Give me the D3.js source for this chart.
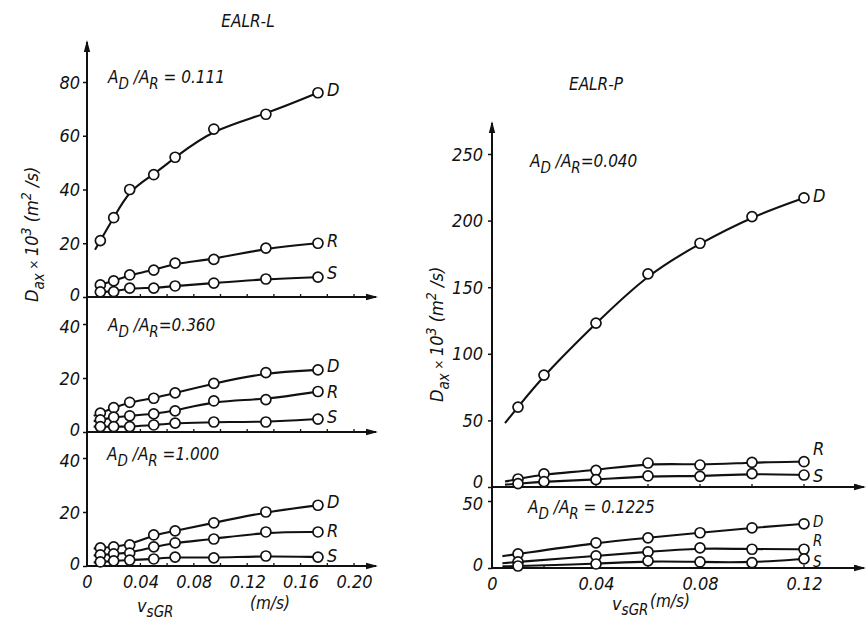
<!DOCTYPE html>
<html><head><meta charset="utf-8">
<script src="https://cdn.jsdelivr.net/npm/d3@7"></script>
<style>
body{margin:0;background:#fff}
svg{display:block}
text{font-family:'DejaVu Sans Condensed','DejaVu Sans',sans-serif;font-style:italic;fill:#111}
</style>
</head><body>
<svg id="c" width="868" height="621"></svg>
<script>
// ---------- data ----------
const xL = [0.01, 0.02, 0.032, 0.05, 0.066, 0.095, 0.134, 0.173];
const L1_D = [21, 29.5, 40, 45.5, 52, 62.5, 68, 76];
const L1_R = [4.5, 6, 8.2, 10, 12.6, 14, 18.2, 20];
const L1_S = [1.9, 2, 3.3, 3.3, 4.1, 5.2, 6.7, 7.4];
const L2_D = [7, 9, 11, 12.5, 14.5, 18, 22, 23];
const L2_R = [4.5, 5.5, 6, 6.7, 7.8, 11.5, 12, 15];
const L2_S = [2, 2, 2, 2.6, 3.3, 3.7, 3.7, 4.8];
const L3_D = [6.7, 7.1, 7.8, 11.5, 13, 16, 20, 22.5];
const L3_R = [4.1, 4.5, 4.8, 7.1, 8.6, 10, 12.6, 12.6];
const L3_S = [1.5, 1.9, 2.2, 2.6, 3.3, 3, 3.7, 3.3];

const xP1 = [0.01, 0.02, 0.04, 0.06, 0.08, 0.10, 0.12];
const P1_D = [60, 84, 123, 160, 183, 203, 217];
const P1_R = [6, 9.8, 12.5, 18, 16.5, 18.5, 19];
const P1_S = [2.5, 4, 5.5, 8.3, 8, 10, 9];
const xP2 = [0.01, 0.04, 0.06, 0.08, 0.10, 0.12];
const P2_D = [10.5, 18.8, 22.5, 26.3, 30, 33];
const P2_R = [4.5, 9, 12, 15, 14, 14];
const P2_S = [1.5, 3, 5.3, 4.5, 4, 6.8];

const seriesNames = ["D", "R", "S"];
const ratioL = ["0.111", "0.360", "1.000"];
const ratioP = ["0.040", "0.1225"];
const yTicksL1 = [0, 20, 40, 60, 80];
const yTicksL23 = [0, 20, 40];
const yTicksP1 = [0, 50, 100, 150, 200, 250];
const yTicksP2 = [0, 50];
const xTickLabelsL = [0, 0.04, 0.08, 0.12, 0.16, 0.20];
const xTickLabelsP = [0, 0.04, 0.08, 0.12];
const xMinorL = d3.range(0.02, 0.2001, 0.02);
const xMinorP = d3.range(0.02, 0.1401, 0.02);

// ---------- scales ----------
const svg = d3.select("#c");
const xSL = d3.scaleLinear().domain([0, 0.2]).range([87, 354]);
const xSP = d3.scaleLinear().domain([0, 0.12]).range([492, 804]);
const yL1 = d3.scaleLinear().domain([0, 80]).range([297, 82]);
const yL2 = d3.scaleLinear().domain([0, 40]).range([432, 324]);
const yL3 = d3.scaleLinear().domain([0, 40]).range([566, 458]);
const yP1 = d3.scaleLinear().domain([0, 250]).range([487, 154]);
const yP2 = d3.scaleLinear().domain([0, 50]).range([568, 501]);

const fmtX = d => d === 0 ? "0" : d3.format(".2f")(d);

function arrowRight(x, y) {
  svg.append("path").attr("d", `M${x},${y} L${x-12},${y-3.2} L${x-12},${y+3.2} Z`).attr("fill", "#111");
}
function arrowUp(x, y) {
  svg.append("path").attr("d", `M${x},${y} L${x-3.2},${y+12} L${x+3.2},${y+12} Z`).attr("fill", "#111");
}

// vertical axis lines
svg.append("line").attr("x1", 87).attr("x2", 87).attr("y1", 42).attr("y2", yL3(0))
  .attr("stroke", "#111").attr("stroke-width", 2);
arrowUp(87, 40);
svg.append("line").attr("x1", xSP(0)).attr("x2", xSP(0)).attr("y1", 123).attr("y2", yP2(0))
  .attr("stroke", "#111").attr("stroke-width", 2);
arrowUp(xSP(0), 121);

function panel(o) {
  const g = svg.append("g");
  // y ticks
  const ya = d3.axisLeft(o.y).tickValues(o.yTicks).tickSize(4).tickPadding(o.pad);
  const yg = g.append("g").attr("transform", `translate(${o.x(0)},0)`).call(ya);
  yg.select(".domain").remove();
  yg.selectAll("line").attr("stroke", "#111").attr("stroke-width", 1.5);
  yg.selectAll("text").attr("font-size", 18).attr("font-family", null).style("fill", "#111")
    .attr("dy", d => (o.yShift && o.yShift[d] !== undefined ? o.yShift[d] : 0) + 6);
  // x axis line
  const y0 = o.y(0);
  g.append("line").attr("x1", o.x(0)).attr("x2", o.xEnd).attr("y1", y0).attr("y2", y0)
    .attr("stroke", "#111").attr("stroke-width", 2);
  arrowRight(o.xEnd + 2, y0);
  // minor x ticks (upward)
  g.selectAll(".mt").data(o.minor).join("line")
    .attr("x1", d => o.x(d)).attr("x2", d => o.x(d))
    .attr("y1", y0).attr("y2", y0 - 3).attr("stroke", "#111").attr("stroke-width", 1.3);
  // series: curve starts a little left of the first point, extended along the first segment
  o.series.forEach((s) => {
    const pts = s.map((v, i) => [o.xs[i], v]);
    const x0 = o.xStart;
    const slope = (pts[1][1] - pts[0][1]) / (pts[1][0] - pts[0][0]);
    const yStart = Math.max(0.3, pts[0][1] + slope * (x0 - pts[0][0]));
    const all = [[x0, yStart]].concat(pts);
    const line = d3.line().x(d => o.x(d[0])).y(d => o.y(d[1])).curve(d3.curveBasis);
    g.append("path").datum(all).attr("d", line).attr("fill", "none")
      .attr("stroke", "#111").attr("stroke-width", 2.1);
  });
  o.series.forEach((s, k) => {
    g.selectAll(null).data(s).join("circle")
      .attr("cx", (d, i) => o.x(o.xs[i])).attr("cy", d => o.y(d)).attr("r", 5)
      .attr("fill", "#fff").attr("stroke", "#111").attr("stroke-width", 1.7);
    const last = s.length - 1;
    const off = (o.labOff && o.labOff[k]) || 4;
    g.append("text").attr("x", o.x(o.xs[last]) + 9).attr("y", o.y(s[last]) + off)
      .attr("font-size", o.labSize || 18).text(seriesNames[k]);
  });
  // ratio annotation
  const t = g.append("text").attr("x", o.ax).attr("y", o.ay).attr("font-size", 17);
  t.append("tspan").text("A");
  t.append("tspan").attr("dy", 6).attr("font-size", 15).text("D");
  t.append("tspan").attr("dy", -6).text(o.sep1);
  t.append("tspan").attr("dy", 6).attr("font-size", 15).text("R");
  t.append("tspan").attr("dy", -6).text(o.sep2 + o.ratio);
}

panel({x: xSL, y: yL1, yTicks: yTicksL1, pad: 3, xEnd: 376, minor: xMinorL, xs: xL, xStart: 0.006,
  series: [L1_D, L1_R, L1_S], ax: 108, ay: 83, sep1: " /A", sep2: " = ", ratio: ratioL[0], labOff: [3, 0, 2],
  yShift: {0: -3}});
panel({x: xSL, y: yL2, yTicks: yTicksL23, pad: 3, xEnd: 376, minor: xMinorL, xs: xL, xStart: 0.005,
  series: [L2_D, L2_R, L2_S], ax: 108, ay: 331, sep1: " /A", sep2: "=", ratio: ratioL[1], labOff: [2, 6, 4],
  yShift: {0: -3, 40: 2}});
panel({x: xSL, y: yL3, yTicks: yTicksL23, pad: 3, xEnd: 376, minor: xMinorL, xs: xL, xStart: 0.005,
  series: [L3_D, L3_R, L3_S], ax: 107, ay: 460, sep1: " /A", sep2: " =", ratio: ratioL[2], labOff: [3, 5, 5],
  yShift: {0: -3, 40: 2}});
panel({x: xSP, y: yP1, yTicks: yTicksP1, pad: 5, xEnd: 864, minor: xMinorP, xs: xP1, xStart: 0.005,
  series: [P1_D, P1_R, P1_S], ax: 530, ay: 167, sep1: " /A", sep2: "=", ratio: ratioP[0], labOff: [4, -7, 7],
  yShift: {0: -6}});
panel({x: xSP, y: yP2, yTicks: yTicksP2, pad: 5, xEnd: 864, minor: xMinorP, xs: xP2, xStart: 0.004,
  series: [P2_D, P2_R, P2_S], ax: 528, ay: 513, sep1: " /A", sep2: " = ", ratio: ratioP[1], labOff: [3, -3, 8],
  labSize: 15, yShift: {0: -4, 50: 2}});

// x tick labels
function xLabels(x, y0, vals) {
  const a = d3.axisBottom(x).tickValues(vals).tickSize(0).tickPadding(9).tickFormat(fmtX);
  const g = svg.append("g").attr("transform", `translate(0,${y0})`).call(a);
  g.select(".domain").remove();
  g.selectAll("text").attr("font-size", 18).attr("font-family", null).style("fill", "#111");
}
xLabels(xSL, yL3(0), xTickLabelsL);
xLabels(xSP, yP2(0), xTickLabelsP);

// titles
svg.append("text").attr("x", 248).attr("y", 27).attr("text-anchor", "middle").attr("font-size", 17).text("EALR-L");
svg.append("text").attr("x", 596).attr("y", 90).attr("text-anchor", "middle").attr("font-size", 17).text("EALR-P");

// y axis titles
function yTitle(x, y) {
  const t = svg.append("text").attr("transform", `translate(${x},${y}) rotate(-90)`).attr("font-size", 18);
  t.append("tspan").text("D");
  t.append("tspan").attr("dy", 6).attr("font-size", 15).text("ax");
  t.append("tspan").attr("dy", -6).attr("font-size", 13).text(" × ");
  t.append("tspan").attr("font-size", 18).text("10");
  t.append("tspan").attr("dy", -7).attr("font-size", 14).text("3");
  t.append("tspan").attr("dy", 7).attr("font-size", 18).text(" (m");
  t.append("tspan").attr("dy", -7).attr("font-size", 14).text("2");
  t.append("tspan").attr("dy", 7).attr("font-size", 18).text(" /s)");
}
yTitle(38, 302);
yTitle(443, 402);

// x axis titles
function xTitle(xv, xu, y) {
  const t = svg.append("text").attr("x", xv).attr("y", y + 3).attr("font-size", 18);
  t.append("tspan").text("v");
  t.append("tspan").attr("dy", 5).attr("font-size", 15).text("sGR");
  svg.append("text").attr("x", xu).attr("y", y).attr("font-size", 17).text("(m/s)");
}
xTitle(137, 250, 609);
xTitle(612, 650, 607);
</script>
</body></html>
